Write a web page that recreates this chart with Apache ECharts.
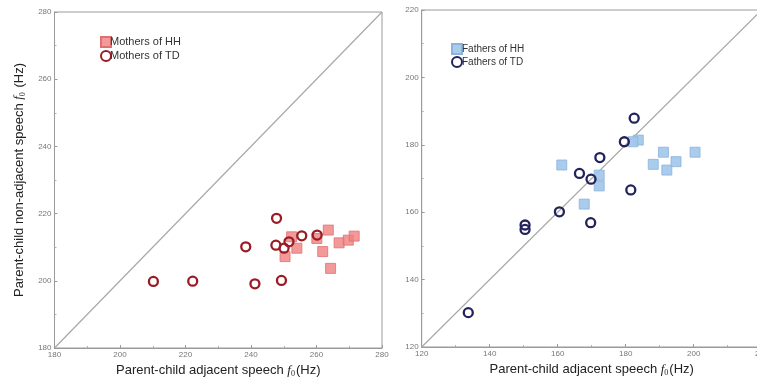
<!DOCTYPE html>
<html>
<head>
<meta charset="utf-8">
<script src="https://cdn.jsdelivr.net/npm/echarts@6/dist/echarts.min.js"></script>
<style>html,body{margin:0;padding:0;background:#fff;}#c{width:757px;height:382px;}</style>
</head>
<body>
<div id="c"></div>
<script>
// ---- data ----
var mothersHH = [[252.4,213.1],[254.0,209.7],[250.4,207.2],[263.6,215.1],[260.1,212.6],[261.9,208.7],[264.3,203.7],[266.9,211.3],[269.7,212.1],[271.5,213.3]];
var mothersTD = [[210.2,199.8],[222.2,199.9],[238.4,210.1],[241.2,199.1],[247.8,218.6],[247.6,210.6],[249.3,200.1],[250.1,209.7],[251.6,211.6],[255.5,213.4],[260.2,213.6]];
var fathersHH = [[183.7,181.4],[182.1,180.9],[161.2,174.0],[172.2,171.0],[172.2,167.8],[167.8,162.4],[188.1,174.2],[191.1,177.8],[192.1,172.5],[194.8,175.0],[200.4,177.8]];
var fathersTD = [[182.5,187.9],[179.6,180.9],[172.4,176.2],[166.4,171.5],[169.8,169.8],[181.5,166.6],[160.5,160.1],[169.7,156.9],[150.4,156.2],[150.4,154.9],[133.7,130.2]];
var leftRange = [180, 280];
var rightRange = [120, 220];
var legendLeft = ['Mothers of HH', 'Mothers of TD'];
var legendRight = ['Fathers of HH', 'Fathers of TD'];

var font = 'Liberation Sans, Arial, sans-serif';
var rich = {
  n: {fontSize: 13, color: '#222', fontFamily: font},
  f: {fontSize: 13, color: '#222', fontFamily: 'Liberation Serif, serif', fontStyle: 'italic'},
  s: {fontSize: 8, color: '#222', fontFamily: 'Liberation Serif, serif', padding: [7, 1, 0, 0]}
};
function axis(range, extra) {
  var a = {
    type: 'value', min: range[0], max: range[1], interval: 20,
    axisLine: {show: true, lineStyle: {color: '#9a9a9a', width: 1}},
    axisTick: {show: true, inside: true, length: 3, lineStyle: {color: '#9a9a9a'}},
    minorTick: {show: true, splitNumber: 2, length: 2, lineStyle: {color: '#b0b0b0'}},
    splitLine: {show: false},
    axisLabel: {fontSize: 8, color: '#777', fontFamily: font, margin: 3}
  };
  for (var k in extra) a[k] = extra[k];
  return a;
}
var chart = echarts.init(document.getElementById('c'));
chart.setOption({
  animation: false,
  backgroundColor: '#fff',
  grid: [
    {left: 54.5, top: 12, width: 327.5, height: 336, outerBoundsMode: 'none', containLabel: false, show: true, borderColor: '#9a9a9a', borderWidth: 1},
    {left: 421.7, top: 10, width: 340, height: 337, outerBoundsMode: 'none', containLabel: false, show: true, borderColor: '#9a9a9a', borderWidth: 1}
  ],
  xAxis: [
    axis(leftRange, {gridIndex: 0, name: '{n|Parent-child adjacent speech }{f|f}{s|0}{n|(Hz)}', nameLocation: 'middle', nameGap: 15, nameTextStyle: {rich: rich}}),
    axis(rightRange, {gridIndex: 1, name: '{n|Parent-child adjacent speech }{f|f}{s|0}{n|(Hz)}', nameLocation: 'middle', nameGap: 15, nameTextStyle: {rich: rich}})
  ],
  yAxis: [
    axis(leftRange, {gridIndex: 0, name: '{n|Parent-child non-adjacent speech }{f|f}{s|0}{n| (Hz)}', nameLocation: 'middle', nameGap: 28, nameTextStyle: {rich: rich}}),
    axis(rightRange, {gridIndex: 1})
  ],
  legend: [
    {data: [{name: legendLeft[0], icon: 'rect'}, {name: legendLeft[1], icon: 'circle'}], orient: 'vertical', left: 95, top: 31, itemWidth: 10, itemHeight: 10, itemGap: 2, textStyle: {fontSize: 11, color: '#333', fontFamily: font, padding: [0, 0, 0, -6]}},
    {data: [{name: legendRight[0], icon: 'rect'}, {name: legendRight[1], icon: 'circle'}], orient: 'vertical', left: 446, top: 38, itemWidth: 10, itemHeight: 10, itemGap: 1, textStyle: {fontSize: 10, color: '#333', fontFamily: font, padding: [0, 0, 0, -5]}}
  ],
  series: [
    {type: 'line', xAxisIndex: 0, yAxisIndex: 0, data: [[leftRange[0], leftRange[0]], [leftRange[1], leftRange[1]]], symbol: 'none', lineStyle: {color: '#a8a8a8', width: 1.2}, silent: true, z: 1},
    {type: 'line', xAxisIndex: 1, yAxisIndex: 1, data: [[rightRange[0], rightRange[0]], [rightRange[1], rightRange[1]]], symbol: 'none', lineStyle: {color: '#a8a8a8', width: 1.2}, silent: true, z: 1},
    {name: legendLeft[0], type: 'scatter', xAxisIndex: 0, yAxisIndex: 0, data: mothersHH, symbol: 'rect', symbolSize: 10, itemStyle: {color: 'rgba(240,128,128,0.8)', borderColor: '#e07070', borderWidth: 0.8, opacity: 1}, z: 2},
    {name: legendLeft[1], type: 'scatter', xAxisIndex: 0, yAxisIndex: 0, data: mothersTD, symbol: 'circle', symbolSize: 9, itemStyle: {color: 'rgba(255,255,255,0)', borderColor: '#9b1b24', borderWidth: 2.3, opacity: 1}, z: 3},
    {name: legendRight[0], type: 'scatter', xAxisIndex: 1, yAxisIndex: 1, data: fathersHH, symbol: 'rect', symbolSize: 10, itemStyle: {color: 'rgba(160,198,234,0.9)', borderColor: '#8cb3da', borderWidth: 0.8, opacity: 1}, z: 2},
    {name: legendRight[1], type: 'scatter', xAxisIndex: 1, yAxisIndex: 1, data: fathersTD, symbol: 'circle', symbolSize: 9, itemStyle: {color: 'rgba(255,255,255,0)', borderColor: '#22225c', borderWidth: 2.3, opacity: 1}, z: 3}
  ]
});
</script>
</body>
</html>
